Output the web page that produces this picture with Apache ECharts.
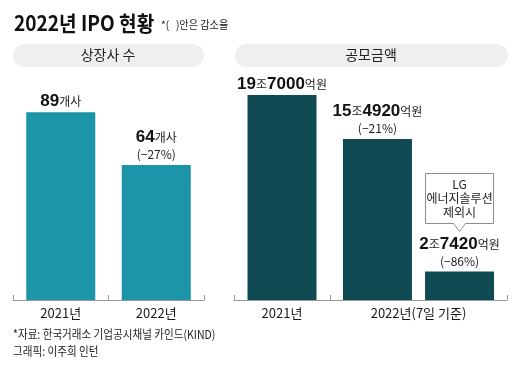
<!DOCTYPE html>
<html><head><meta charset="utf-8">
<script src="https://cdn.jsdelivr.net/npm/echarts@6/dist/echarts.min.js"></script>
<style>html,body{margin:0;padding:0;background:#fff}#c{width:520px;height:373px}</style>
</head><body><div id="c"></div>
<script>
// ---- data ----
const countYears = ['2021년', '2022년'];
const listedCounts = [89, 64];           // 상장사 수 (개사)
const countChanges = ['', '−27%'];
const amountYear2021 = ['2021년'];
const amountYear2022 = ['2022년(7일 기준)'];
const amount2021 = [197000];             // 공모금액 (억원)
const amount2022 = [154920];
const amount2022ExLG = [27420];
const amountChanges2021 = [''];
const amountChanges2022 = ['−21%'];
const amountChangesExLG = ['−86%'];
const calloutLines = ['LG', '에너지솔루션', '제외시'];
const titleText = '2022년 IPO 현황';
const noteText = '*(   )안은 감소율';
const panelTitles = ['상장사 수', '공모금액'];
const footerLines = ['*자료: 한국거래소 기업공시채널 카인드(KIND)', '그래픽: 이주희 인턴'];

// ---- styles ----
const KR = '"Noto Sans CJK KR", sans-serif';
const NUM = '"Liberation Sans Narrow", "Liberation Sans", "Noto Sans CJK KR", sans-serif';
const C_LEFT = '#1b95a7';
const C_RIGHT = '#104a53';
const AXIS_C = '#9a9a9a';
const TXT = '#1a1a1a';

const rich = {
  n: {fontFamily: NUM, fontWeight: 'bold', fontSize: 17, color: '#111', lineHeight: 17},
  u: {fontFamily: KR, fontSize: 12, color: '#222', lineHeight: 17},
  p: {fontFamily: KR, fontSize: 12, color: '#222', lineHeight: 17}
};
function withChange(s, ch) { return ch ? s + '\n{p|(' + ch + ')}' : s; }
function fmtAmount(v) {
  const jo = Math.floor(v / 10000), eok = v % 10000;
  return '{n|' + jo + '}{u|조}{n|' + eok + '}{u|억원}';
}
function xAxisCfg(gi, data) {
  return {
    type: 'category', gridIndex: gi, data: data,
    axisLine: {lineStyle: {color: AXIS_C, width: 1}},
    axisTick: {show: true, inside: true, length: 5, lineStyle: {color: AXIS_C}},
    axisLabel: {fontFamily: KR, fontSize: 13, color: TXT, margin: 7}
  };
}
function barLabel(fmt) {
  return {show: true, position: 'top', distance: 2, align: 'center', rich: rich, formatter: fmt};
}

const chart = echarts.init(document.getElementById('c'), null, {renderer: 'canvas'});
chart.setOption({
  animation: false,
  grid: [
    {left: 13, top: 89, width: 191, height: 211},
    {left: 234, top: 92, width: 96, height: 208},
    {left: 330, top: 92, width: 177, height: 208}
  ],
  xAxis: [xAxisCfg(0, countYears), xAxisCfg(1, amountYear2021), xAxisCfg(2, amountYear2022)],
  yAxis: [
    {type: 'value', gridIndex: 0, min: 0, max: 100, show: false},
    {type: 'value', gridIndex: 1, min: 0, max: 200000, show: false},
    {type: 'value', gridIndex: 2, min: 0, max: 200000, show: false}
  ],
  series: [
    {type: 'bar', xAxisIndex: 0, yAxisIndex: 0, data: listedCounts, barWidth: 69,
     itemStyle: {color: C_LEFT},
     label: barLabel(p => withChange('{n|' + p.value + '}{u|개사}', countChanges[p.dataIndex]))},
    {type: 'bar', xAxisIndex: 1, yAxisIndex: 1, data: amount2021, barWidth: 69,
     itemStyle: {color: C_RIGHT},
     label: barLabel(p => withChange(fmtAmount(p.value), amountChanges2021[p.dataIndex]))},
    {type: 'bar', xAxisIndex: 2, yAxisIndex: 2, data: amount2022, barWidth: 69, barGap: '19%',
     itemStyle: {color: C_RIGHT},
     label: barLabel(p => withChange(fmtAmount(p.value), amountChanges2022[p.dataIndex]))},
    {type: 'bar', xAxisIndex: 2, yAxisIndex: 2, data: amount2022ExLG, barWidth: 69, barGap: '19%',
     itemStyle: {color: C_RIGHT},
     label: barLabel(p => withChange(fmtAmount(p.value), amountChangesExLG[p.dataIndex]))}
  ]
});

// callout positioned from the rendered bar layout
const lay = chart.getModel().getSeriesByIndex(3).getData().getItemLayout(0);
const bx = lay.x + lay.width / 2;
const btop = Math.min(lay.y, lay.y + lay.height);
const boxW = 68, boxH = 50;
const boxBottom = btop - 48, boxTop = boxBottom - boxH;
const bl = bx - boxW / 2, br = bx + boxW / 2;

function txt(text, x, y, font, align, fill, sx) {
  return {type: 'text', x: x, y: y, scaleX: sx || 1, originX: 0,
    style: {text: text, x: 0, y: 0, font: font, fill: fill || TXT,
      textAlign: align || 'left', textVerticalAlign: 'middle', verticalAlign: 'middle'}};
}

chart.setOption({
  graphic: [
    txt(titleText, 14, 23, 'bold 21px ' + KR, 'left', '#111', 0.91),
    txt(noteText, 161, 25, '11px ' + KR, 'left', '#222', 0.92),
    {type: 'rect', shape: {x: 13, y: 44, width: 191, height: 23, r: 11.5}, style: {fill: '#efefef'}},
    {type: 'rect', shape: {x: 235, y: 44, width: 273, height: 23, r: 11.5}, style: {fill: '#efefef'}},
    txt(panelTitles[0], 108, 55, '14px ' + KR, 'center', '#222'),
    txt(panelTitles[1], 371, 55, '14px ' + KR, 'center', '#222'),
    {type: 'polygon', shape: {points: [[bl, boxTop], [br, boxTop], [br, boxBottom], [bx + 6, boxBottom], [bx, boxBottom + 8], [bx - 6, boxBottom], [bl, boxBottom]]},
     style: {fill: '#fff', stroke: '#8a8a8a', lineWidth: 1}},
    txt(calloutLines[0], bx, boxTop + 11, '12px ' + KR, 'center', '#222'),
    txt(calloutLines[1], bx, boxTop + 25, '12px ' + KR, 'center', '#222'),
    txt(calloutLines[2], bx, boxTop + 39, '12px ' + KR, 'center', '#222'),
    txt(footerLines[0], 13, 334, '12px ' + KR, 'left', '#222', 0.88),
    txt(footerLines[1], 13, 351, '12px ' + KR, 'left', '#222', 0.88)
  ]
});
</script></body></html>
